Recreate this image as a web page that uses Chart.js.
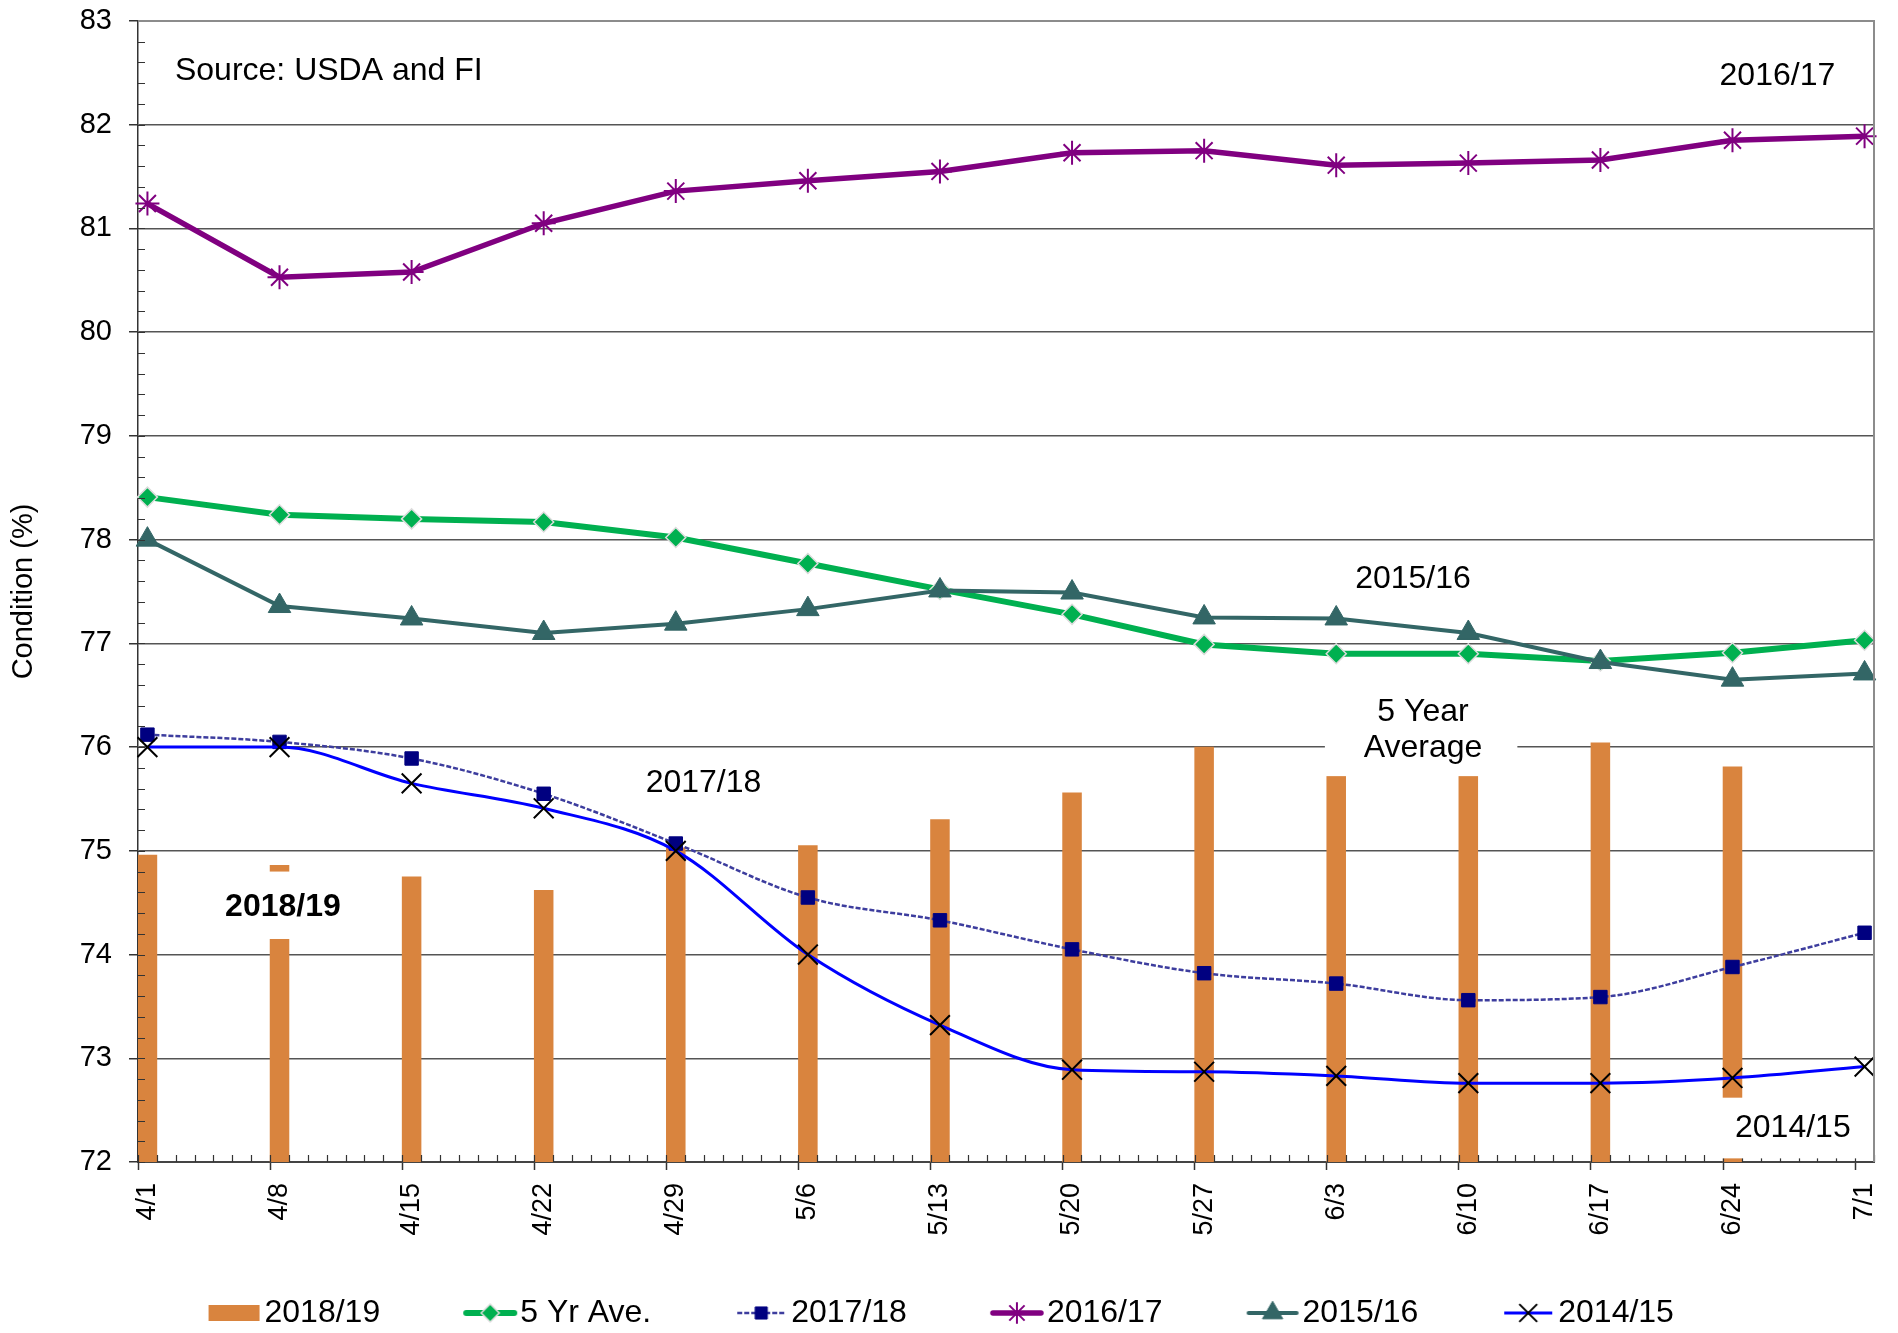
<!DOCTYPE html>
<html lang="en">
<head>
<meta charset="UTF-8">
<title>Condition (%)</title>
<script src="https://cdn.jsdelivr.net/npm/chart.js@4.4.1/dist/chart.umd.min.js"></script>
<style>
  html, body { margin: 0; padding: 0; background: #fff; }
  canvas { display: block; }
</style>
</head>
<body>
<canvas id="chart" width="1898" height="1333"></canvas>
<script>
// weekly points
const weeks = ['4/1','4/8','4/15','4/22','4/29','5/6','5/13','5/20','5/27','6/3','6/10','6/17','6/24','7/1'];
const cond1819 = [74.96, 74.86, 74.75, 74.62, 75.03, 75.05, 75.30, 75.56, 76.00, 75.90, 75.90, 76.04, 75.81, null];
const avg5yr   = [78.41, 78.24, 78.20, 78.17, 78.02, 77.77, 77.52, 77.28, 76.99, 76.90, 76.90, 76.83, 76.91, 77.03];
const cond1718 = [76.12, 76.05, 75.89, 75.55, 75.07, 74.55, 74.33, 74.05, 73.82, 73.72, 73.56, 73.59, 73.88, 74.21];
const cond1617 = [81.24, 80.53, 80.58, 81.05, 81.36, 81.46, 81.55, 81.73, 81.75, 81.61, 81.63, 81.66, 81.85, 81.89];
const cond1516 = [78.00, 77.36, 77.24, 77.10, 77.19, 77.33, 77.51, 77.49, 77.25, 77.24, 77.10, 76.82, 76.65, 76.71];
const cond1415 = [76.00, 76.00, 75.65, 75.41, 75.00, 74.00, 73.32, 72.89, 72.87, 72.83, 72.76, 72.76, 72.81, 72.92];

// daily category axis 4/1 .. 7/1
const days = [];
[[4, 30], [5, 31], [6, 30], [7, 1]].forEach(([m, n]) => {
  for (let d = 1; d <= n; d++) days.push(m + '/' + d);
});

const pts = vals => weeks.map((w, i) => ({x: w, y: vals[i]}));

Chart.defaults.font.family = "'Liberation Sans', Arial, sans-serif";
Chart.defaults.color = '#000';

const datasets = [
  {type: 'bar', label: '2018/19', data: pts(cond1819), backgroundColor: '#d9843e',
   borderWidth: 0, categoryPercentage: 1, barPercentage: 1, order: 6},
  {type: 'line', label: '5 Yr Ave.', data: pts(avg5yr), borderColor: '#00b050', borderWidth: 6,
   pointStyle: 'rectRot', pointRadius: 10, pointBackgroundColor: '#00b050',
   pointBorderColor: '#dcdcdc', pointBorderWidth: 1.5, order: 5},
  {type: 'line', label: '2017/18', data: pts(cond1718), borderColor: '#3d3d9e', borderWidth: 2.5,
   borderDash: [5, 2], cubicInterpolationMode: 'monotone', pointStyle: 'rect', pointRadius: 9.5,
   pointBackgroundColor: '#000080', pointBorderColor: '#000080', pointBorderWidth: 1, order: 4},
  {type: 'line', label: '2016/17', data: pts(cond1617), borderColor: '#800080', borderWidth: 5.5,
   pointStyle: 'star', pointRadius: 12, pointBackgroundColor: '#800080',
   pointBorderColor: '#800080', pointBorderWidth: 2, order: 3},
  {type: 'line', label: '2015/16', data: pts(cond1516), borderColor: '#336666', borderWidth: 4,
   pointStyle: 'triangle', pointRadius: 13, pointBackgroundColor: '#336666',
   pointBorderColor: '#336666', pointBorderWidth: 1, order: 2},
  {type: 'line', label: '2014/15', data: pts(cond1415), borderColor: '#0000ff', borderWidth: 3,
   cubicInterpolationMode: 'monotone', pointStyle: 'crossRot', pointRadius: 14,
   pointBackgroundColor: '#000', pointBorderColor: '#000', pointBorderWidth: 2, order: 1}
];

// legend swatches: line + marker, drawn in the right half of a wide canvas
function legendIcon(ds) {
  const c = document.createElement('canvas');
  c.width = 112; c.height = 32;
  const g = c.getContext('2d');
  const cy = 16;
  if (ds.type === 'bar') {
    g.fillStyle = ds.backgroundColor;
    g.fillRect(58, cy - 8, 51, 16);
    return c;
  }
  g.strokeStyle = ds.borderColor;
  g.lineWidth = ds.borderWidth;
  g.lineCap = ds.borderWidth > 3.5 ? 'round' : 'butt';
  g.setLineDash(ds.borderDash || []);
  g.beginPath(); g.moveTo(60, cy); g.lineTo(108, cy); g.stroke();
  g.setLineDash([]);
  g.lineCap = 'butt';
  g.fillStyle = ds.pointBackgroundColor;
  g.strokeStyle = ds.pointBorderColor;
  g.lineWidth = ds.pointBorderWidth;
  if (Chart.helpers && Chart.helpers.drawPoint) {
    Chart.helpers.drawPoint(g, {pointStyle: ds.pointStyle, radius: ds.pointRadius * 0.9,
      borderWidth: ds.pointBorderWidth, rotation: 0}, 84, cy);
  }
  return c;
}
const icons = datasets.map(legendIcon);

// text labels placed in data units (x = day index, y = condition)
const notes = [
  {lines: ['Source: USDA and FI'], x: 1.46, y: 82.52, align: 'left'},
  {lines: ['2016/17'], x: 86.38, y: 82.47},
  {lines: ['2015/16'], x: 67.07, y: 77.62},
  {lines: ['5 Year', 'Average'], x: 67.6, y: 76.34, box: [62.4, 72.6, 76.62, 75.72]},
  {lines: ['2017/18'], x: 29.47, y: 75.65},
  {lines: ['2018/19'], x: 7.18, y: 74.46, bold: true, box: [4.0, 10.4, 74.80, 74.15]},
  {lines: ['2014/15'], x: 87.2, y: 72.33, box: [83.3, 91.4, 72.62, 72.035]}
];

const decor = {
  id: 'decor',
  afterDatasetsDraw(chart) {
    const {ctx, chartArea: a, scales: {x, y}} = chart;
    ctx.save();
    // minor tick marks inside the plot
    ctx.strokeStyle = '#333';
    ctx.lineWidth = 1.2;
    ctx.beginPath();
    for (let k = 0; k <= 55; k++) {
      const py = Math.round(y.getPixelForValue(72 + k * 0.2)) + 0.5;
      ctx.moveTo(a.left, py); ctx.lineTo(a.left + 7, py);
    }
    for (let i = 0; i <= days.length; i++) {
      const px = Math.round(x.getPixelForValue(i - 0.5)) + 0.5;
      ctx.moveTo(px, a.bottom); ctx.lineTo(px, a.bottom - 7);
    }
    ctx.stroke();
    // top / right frame
    ctx.strokeStyle = '#8c8c8c';
    ctx.lineWidth = 2;
    ctx.beginPath();
    ctx.moveTo(a.left, a.top); ctx.lineTo(a.right, a.top); ctx.lineTo(a.right, a.bottom);
    ctx.stroke();
    // notes
    notes.forEach(n => {
      if (n.box) {
        const x0 = x.getPixelForValue(n.box[0]), x1 = x.getPixelForValue(n.box[1]);
        const y0 = y.getPixelForValue(n.box[2]), y1 = y.getPixelForValue(n.box[3]);
        ctx.fillStyle = '#fff';
        ctx.fillRect(x0, y0, x1 - x0, y1 - y0);
      }
      ctx.fillStyle = '#000';
      ctx.font = (n.bold ? 'bold ' : '') + "32px 'Liberation Sans', Arial, sans-serif";
      ctx.textAlign = n.align || 'center';
      ctx.textBaseline = 'middle';
      const px = x.getPixelForValue(n.x), py = y.getPixelForValue(n.y);
      n.lines.forEach((t, i) => ctx.fillText(t, px, py + i * 36.5));
    });
    ctx.restore();
  }
};

new Chart(document.getElementById('chart'), {
  type: 'bar',
  data: {labels: days, datasets: datasets},
  options: {
    responsive: false,
    animation: false,
    events: [],
    layout: {padding: {top: 21, right: 24, left: 0, bottom: -6}},
    scales: {
      x: {
        type: 'category',
        offset: true,
        grid: {
          offset: true,
          drawOnChartArea: false,
          tickLength: 8,
          tickWidth: 1.5,
          tickColor: c => weeks.includes(days[c.index]) ? '#333' : 'rgba(0,0,0,0)'
        },
        border: {color: '#444', width: 2},
        ticks: {
          autoSkip: false, minRotation: 90, maxRotation: 90, padding: 13,
          font: {size: 27}, color: '#000',
          callback: (v, i) => weeks.includes(days[i]) ? days[i] : ''
        },
        afterFit: s => { s.height = 95; s.paddingLeft = 0; s.paddingRight = 0; }
      },
      y: {
        min: 72, max: 83,
        ticks: {stepSize: 1, padding: 17, font: {size: 29}, color: '#000'},
        grid: {color: '#555', lineWidth: 1.5, tickLength: 9, tickColor: '#333'},
        border: {color: '#333', width: 1.5},
        title: {display: true, text: 'Condition (%)', font: {size: 29}, color: '#000',
                padding: {top: 7, bottom: 0}},
        afterFit: s => { s.width = 138; s.paddingTop = 0; s.paddingBottom = 0; }
      }
    },
    plugins: {
      tooltip: {enabled: false},
      legend: {
        position: 'bottom',
        labels: {
          usePointStyle: true, pointStyleWidth: 84, padding: 40,
          font: {size: 32}, color: '#000',
          // trailing spaces on the last entry nudge the centred row left
          generateLabels: chart => chart.data.datasets.map((ds, i, all) => ({
            text: ds.label + (i === all.length - 1 ? '    ' : ''),
            pointStyle: icons[i], fillStyle: 'rgba(0,0,0,0)',
            strokeStyle: 'rgba(0,0,0,0)', lineWidth: 0, hidden: false,
            datasetIndex: i, fontColor: '#000'
          }))
        }
      }
    }
  },
  plugins: [decor]
});
</script>
</body>
</html>
